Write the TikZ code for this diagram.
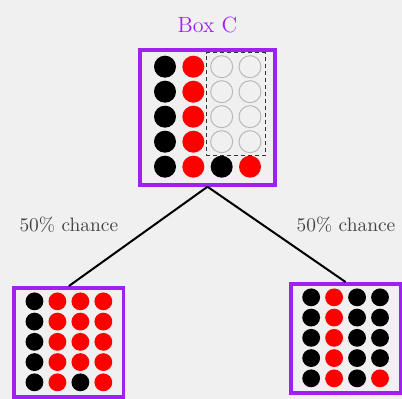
\documentclass[tikz,border=0pt]{standalone}
\usepackage{xcolor}
\usepackage{tikz}
\usetikzlibrary{positioning,fit}

\definecolor{urnpurple}{RGB}{160,32,240}
\definecolor{bggray}{RGB}{240,240,240}
\definecolor{labelgray}{RGB}{68,68,68}

\tikzset{
  urn/.style = {draw = urnpurple, line width = 1.75pt, minimum size = #1, inner sep = 0pt},
  bk/.style = {circle, fill = black, inner sep = 0pt},
  rd/.style = {circle, fill = red, inner sep = 0pt},
  em/.style = {circle, draw = black!28, fill = bggray, line width = 0.5pt, inner sep = 0pt},
  chance/.style = {text = labelgray, font = \fontsize{9.7}{11}\selectfont, anchor = base, inner sep = 0pt},
}

% 4 columns x 5 rows of balls inside an urn node
\newcommand{\urnballs}[3]{%
  \foreach \kind [count = \k from 0] in {#3} {
    \pgfmathtruncatemacro{\cx}{mod(\k,4)}
    \pgfmathtruncatemacro{\ry}{div(\k,4)}
    \pgfmathsetmacro{\dx}{#2*(\cx-1.5)*14.17}
    \pgfmathsetmacro{\dy}{#2*((2-\ry)*12.5+0.4)}
    \node[\kind, minimum size = #2*11pt] (#1-\k) at ([xshift = \dx pt, yshift = \dy pt]#1.center) {};
  }}

\begin{document}
\begin{tikzpicture}[x = 1pt, y = 1pt]
  \useasboundingbox (0,0) rectangle (201,199.5);
  \fill[bggray] (0,0) rectangle (201,199.5);
  \clip (0,0) rectangle (201,199.5);

  \node[urn = 67.5pt] (boxC) at (103.75,140.75) {};
  \node[urn = 54.7pt] (boxL) at (34.45,28.25) {};
  \node[urn = 54.7pt] (boxR) at (172.8,30.25) {};

  \node[above = 7.5pt of boxC, inner sep = 0pt, text = urnpurple, font = \fontsize{11}{13}\selectfont] (titleC) {Box C};

  \urnballs{boxC}{1}{bk,rd,em,em, bk,rd,em,em, bk,rd,em,em, bk,rd,em,em, bk,rd,bk,rd}
  \urnballs{boxL}{0.81}{bk,rd,rd,rd, bk,rd,rd,rd, bk,rd,rd,rd, bk,rd,rd,rd, bk,rd,bk,rd}
  \urnballs{boxR}{0.81}{bk,rd,bk,bk, bk,rd,bk,bk, bk,rd,bk,bk, bk,rd,bk,bk, bk,rd,bk,rd}

  \node[fit = (boxC-2) (boxC-15), draw = black!80, dash pattern = on 2pt off 1.5pt, line width = 0.5pt, inner xsep = 1.9pt, inner ysep = 1.2pt] (freeC) {};

  \draw[line width = 1pt] (boxC.south) -- (boxL.north);
  \draw[line width = 1pt] (boxC.south) -- (boxR.north);

  \node[chance] (chanceL) at (34.4,83.75) {50\% chance};
  \node[chance] (chanceR) at (173,83.75) {50\% chance};
\end{tikzpicture}
\end{document}
